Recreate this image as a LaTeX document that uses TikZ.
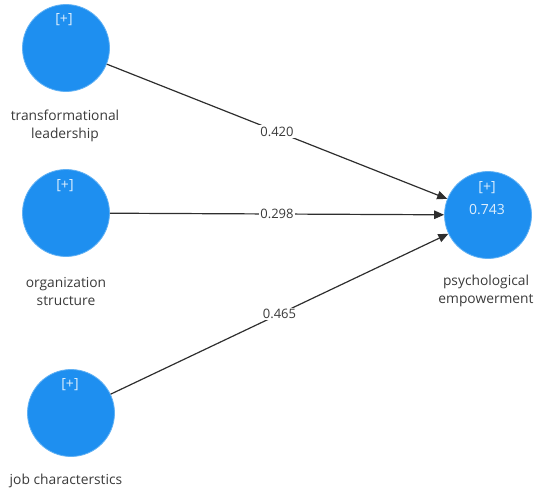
\documentclass[tikz,border=0pt]{standalone}
\usepackage{fontspec}
\setmainfont{Open Sans}
\usetikzlibrary{arrows.meta}
\definecolor{lv}{HTML}{1E8FF0}
\definecolor{txt}{HTML}{3A3A3A}
\begin{document}
\begin{tikzpicture}[x=1pt,y=-1pt,
  latent/.style={circle,fill=lv,draw=lv!70!white,line width=0.8pt,minimum size=87pt,inner sep=0pt},
  lbl/.style={text=txt,font=\fontsize{13.8}{18}\selectfont,align=center,inner sep=0pt},
  inlbl/.style={text=white!85!lv,font=\fontsize{14}{16}\selectfont,inner sep=0pt},
  path/.style={draw=txt!80!black,line width=1.2pt,-{Triangle[length=10pt,width=8.5pt]}},
  coef/.style={fill=white,text=txt,font=\fontsize{13}{15}\selectfont,inner sep=1.5pt}]
\useasboundingbox (0,0) rectangle (538,493);
\node[latent] (tl) at (66,48) {};
\node[latent] (os) at (66,213) {};
\node[latent] (jc) at (71,413) {};
\node[latent] (pe) at (488,215) {};
\node[inlbl] (tlp) at (64,20) {[+]};
\node[inlbl] (osp) at (65,186) {[+]};
\node[inlbl] (jcp) at (70,385) {[+]};
\node[inlbl] (pep) at (487,188) {[+]};
\node[inlbl] (per2) at (487,210) {0.743};
\node[lbl] (tll) at (65,126) {transformational\\leadership};
\node[lbl] (osl) at (66,291) {organization\\structure};
\node[lbl] (jcl) at (66,481) {job characterstics};
\node[lbl] (pel) at (486,291) {psychological\\empowerment};
\draw[path] (tl) -- (pe) node[coef,pos=0.5] (c1) {0.420};
\draw[path] (os) -- (pe) node[coef,pos=0.5] (c2) {0.298};
\draw[path] (jc) -- (pe) node[coef,pos=0.5] (c3) {0.465};
\end{tikzpicture}
\end{document}
